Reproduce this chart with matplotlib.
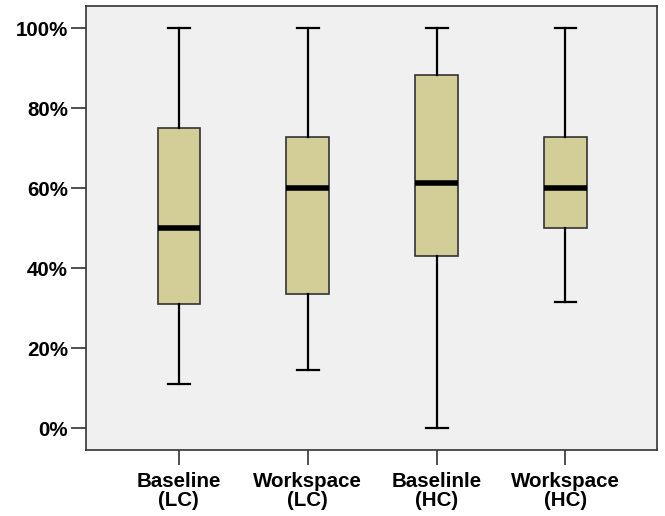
import matplotlib
matplotlib.use("Agg")
import matplotlib.pyplot as plt
from matplotlib.ticker import PercentFormatter

plt.rcParams['font.family'] = ['Liberation Sans', 'DejaVu Sans']

labels = ["Baseline\n(LC)", "Workspace\n(LC)", "Baselinle\n(HC)", "Workspace\n(HC)"]
whislo = [11, 14.5, 0, 31.5]
q1 = [31, 33.5, 43, 50]
med = [50, 60, 61.25, 60]
q3 = [75, 72.75, 88.25, 72.75]
whishi = [100, 100, 100, 100]

stats = []
for i in range(len(labels)):
    stats.append({"label": labels[i], "whislo": whislo[i], "q1": q1[i], "med": med[i],
                  "q3": q3[i], "whishi": whishi[i], "fliers": []})

fig = plt.figure(figsize=(6.65, 5.16), dpi=100)
ax = fig.add_axes([86/665, 1 - 450/516, (657-86)/665, (450-6)/516])
ax.set_facecolor("#f0f0f0")

ax.bxp(stats, widths=0.33, patch_artist=True, showfliers=False,
       boxprops=dict(facecolor="#d3ce97", edgecolor="#333333", linewidth=1.2),
       medianprops=dict(color="black", linewidth=4, solid_capstyle="butt"),
       whiskerprops=dict(color="black", linewidth=1.6),
       capprops=dict(color="black", linewidth=1.6),
       capwidths=0.17)

ax.set_xlim(0.28, 4.71)
ax.set_ylim(-5.5, 105.5)
ax.set_yticks([0, 20, 40, 60, 80, 100])
ax.yaxis.set_major_formatter(PercentFormatter(decimals=0))
ax.tick_params(axis='both', length=11, width=1.2, color="#333333", labelsize=14.8)
ax.tick_params(axis='y', pad=2)
ax.tick_params(axis='x', pad=5)
for t in ax.get_xticklabels() + ax.get_yticklabels():
    t.set_fontweight("bold")
for t in ax.get_xticklabels():
    t.set_linespacing(1.0)
for s in ax.spines.values():
    s.set_color("#333333")
    s.set_linewidth(1.2)

fig.savefig("out.png", dpi=100)
